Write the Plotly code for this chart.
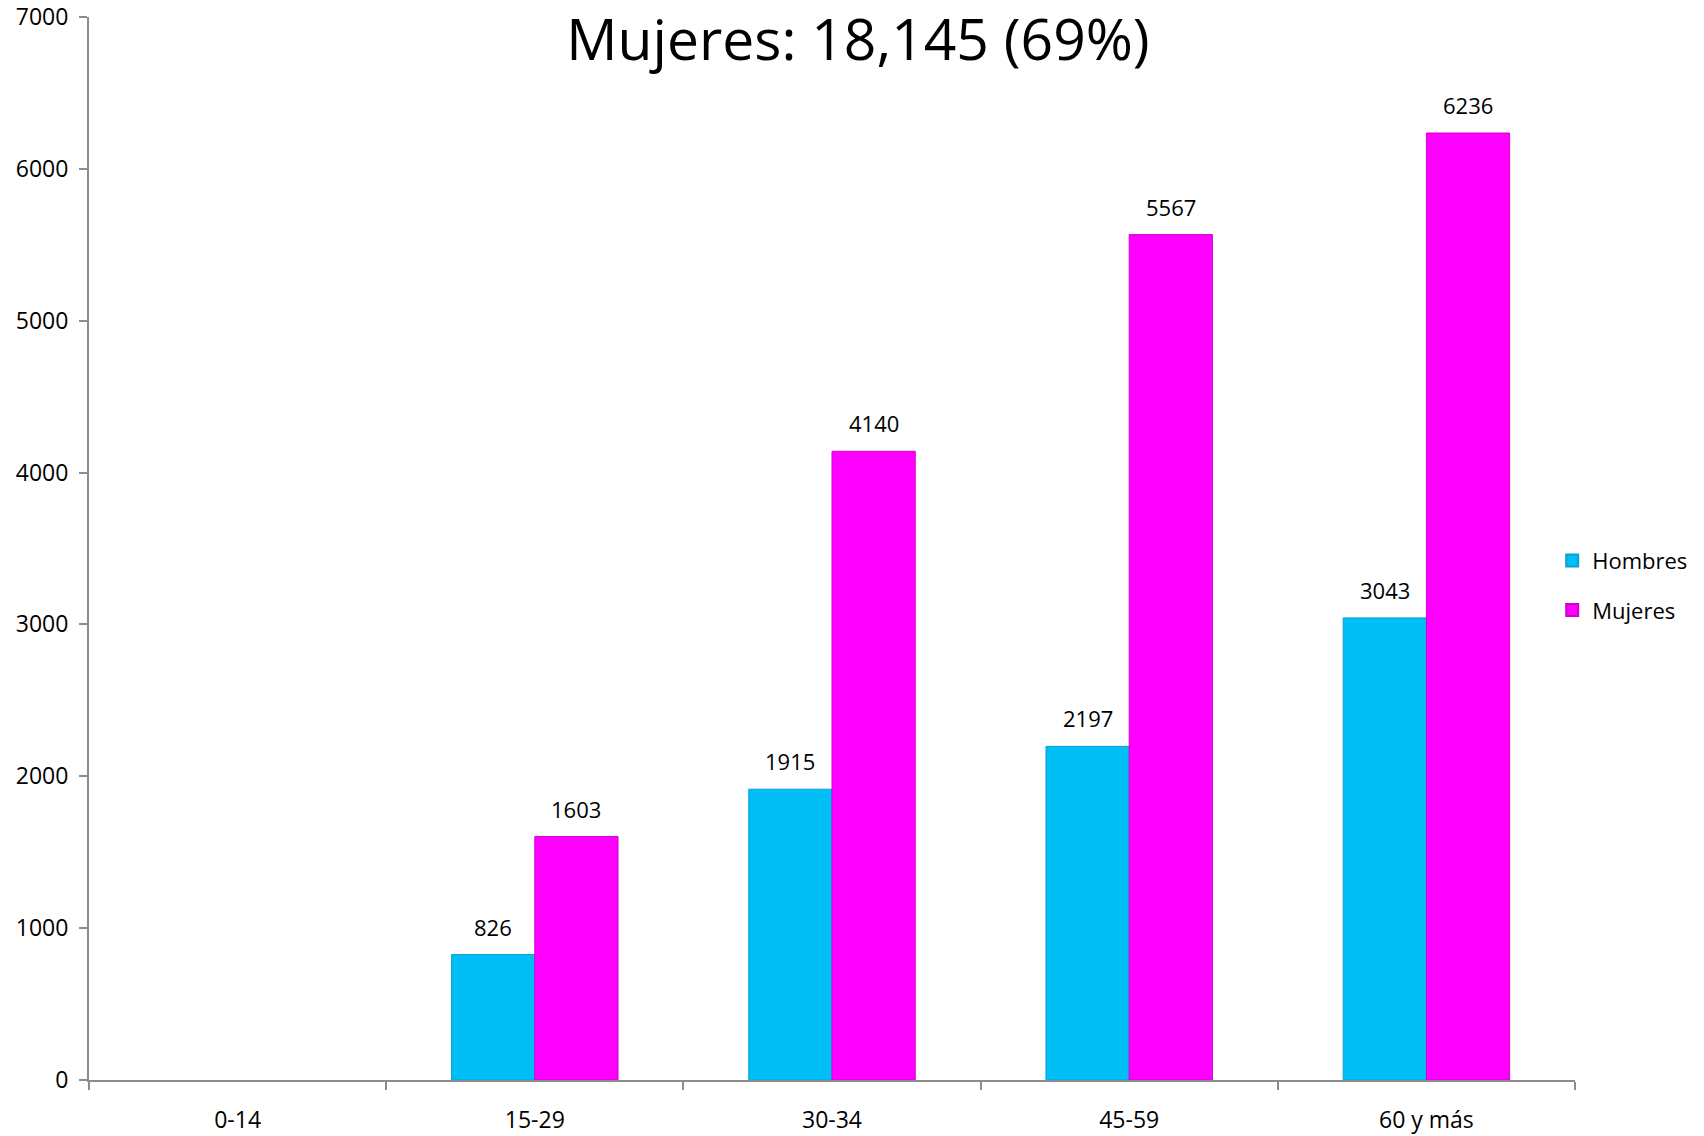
import plotly.graph_objects as go

categories = ["0-14", "15-29", "30-34", "45-59", "60 y más"]
hombres = [None, 826, 1915, 2197, 3043]
mujeres = [None, 1603, 4140, 5567, 6236]
title_text = "Mujeres: 18,145 (69%)"

W, H = 1704, 1136
ML, MR, MT, MB = 89, 128, 17, 56
BARGAP = 0.44
FONT = "Open Sans, Lato, sans-serif"

fig = go.Figure()
fig.add_trace(go.Bar(name="Hombres", x=categories, y=hombres, legendgroup="h",
                     marker=dict(color="#00BFF7", line=dict(color="#0aa0d0", width=1))))
fig.add_trace(go.Bar(name="Mujeres", x=categories, y=mujeres, legendgroup="m",
                     marker=dict(color="#FF00FF", line=dict(color="#d000d0", width=1))))

plot_w = W - ML - MR
slot = plot_w / len(categories)
bar_w = slot * (1 - BARGAP) / 2
annotations = []
for series, sign in ((hombres, -1), (mujeres, 1)):
    for c, v in zip(categories, series):
        if v is None:
            continue
        annotations.append(dict(x=c, y=v, xref="x", yref="y", text=str(v),
                                showarrow=False, xshift=sign * bar_w / 2, yshift=28,
                                yanchor="middle",
                                font=dict(family=FONT, size=22, color="#000")))

fig.update_layout(
    width=W, height=H,
    margin=dict(l=ML, r=MR, t=MT, b=MB),
    plot_bgcolor="white", paper_bgcolor="white",
    barmode="group", bargap=BARGAP, bargroupgap=0,
    title=dict(text=title_text, x=858 / W, xref="container", xanchor="center",
               y=1 - 40 / H, yref="container", yanchor="middle",
               font=dict(family=FONT, size=57, color="#000")),
    legend=dict(x=0.984, y=0.465, xanchor="left", yanchor="middle",
                font=dict(family=FONT, size=22, color="#000"),
                bgcolor="rgba(0,0,0,0)", tracegroupgap=18, itemsizing="constant"),
    annotations=annotations,
    xaxis=dict(type="category", showline=True, linecolor="#8c8c8c", linewidth=2,
               ticks="outside", tickson="boundaries", ticklen=8, tickcolor="#8c8c8c",
               tickwidth=2, showgrid=False, ticklabelstandoff=18, automargin=False,
               tickfont=dict(family=FONT, size=23, color="#000")),
    yaxis=dict(range=[0, 7000], dtick=1000, showline=True, linecolor="#8c8c8c",
               linewidth=2, ticks="outside", ticklen=8, tickcolor="#8c8c8c",
               tickwidth=2, showgrid=False, zeroline=False, ticklabelstandoff=6,
               automargin=False,
               tickfont=dict(family=FONT, size=23, color="#000")),
)

fig.write_html("out.html", config={"displayModeBar": False},
               post_script="document.body.style.margin='0';")
